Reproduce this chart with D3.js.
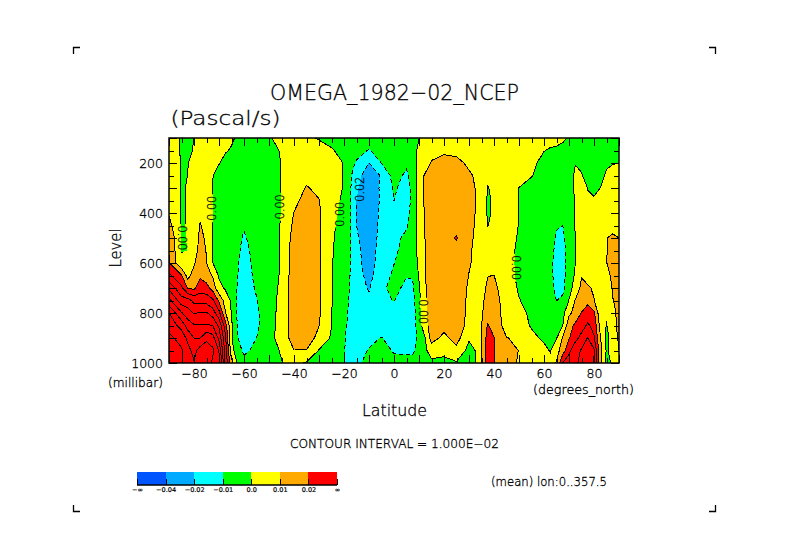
<!DOCTYPE html>
<html>
<head>
<meta charset="utf-8">
<script src="https://cdn.jsdelivr.net/npm/d3@7"></script>
<style>
  html, body { margin: 0; padding: 0; background: #fff; }
  text { font-family: "DejaVu Sans", sans-serif; font-weight: 200; fill: #000; stroke: #000; stroke-width: 0.3; }
  .axis path { display: none; }
  .axis line { stroke: #000; shape-rendering: crispEdges; }
  .axis text { fill: #000; }
</style>
</head>
<body>
<div id="chart"></div>
<script>
// latitude of each column, degrees_north
const lats = [-90,-85,-82.5,-80,-77.5,-75,-72.5,-70,-67.5,-65,-62.5,-60,-55,-50,-45,-40,-35,-30,-25,-20,-17.5,-15,-10,-5,0,5,7.5,10,12.5,15,20,25,30,32.5,35,37.5,40,45,50,55,60,62.5,65,67.5,70,72.5,75,77.5,80,82.5,85,87.5,90];
// pressure of each row, millibar
const levels = [100,150,200,250,300,350,400,450,500,550,600,650,700,750,800,850,900,950,1000];
// omega in 0.001 Pascal/s, one list per latitude, top level to bottom level
const omega = [
  [3,3.5,4,4.5,5,6,9,13,18,19.5,21,32,48,63,80,87,92,93,93],
  [-.5,-.5,-.5,-.5,-.5,-.5,-.5,-.5,-.5,-.3,1.5,21,32,44,61,76,87,91,91],
  [-.4,-.3,-.05,.02,.3,.3,.3,.3,.15,.05,1.5,6,19,44,54,66,77,84,86],
  [.02,.1,.5,.8,1,1.2,1.3,1.5,2,3.5,8.5,15,18,37,49,61,70,76,81],
  [1,1.3,1.5,1.8,2,3,7,11,13,15,17,18,26,36,51,61,70,85,88],
  [2.5,2.5,2.5,2.2,3,3,3.5,5,8,9.5,10,14,24,36,51,61,78,85,86],
  [3,3,1.5,.1,-.1,-.1,-.1,-.1,-.1,-.1,.05,9,16,32,45,60,74,82,78],
  [2.5,1,.2,-1.5,-3,-3,-3,-3,-3,-3,-2,-1.2,3,18,33,48,57,69,75],
  [1.5,.3,-1,-2.5,-4,-4,-4,-4,-4,-4,-4,-3,-1,6,11,25,33,36,38],
  [.5,-.3,-2,-3,-5,-5,-5,-5,-5,-5,-5,-5,-4,-1.5,-.5,1.5,1,3,14],
  [-.5,-2,-3,-4,-5,-5,-6,-7,-8,-8.5,-9.5,-10,-11,-12,-12,-11,-9.8,-5,-2],
  [-1.5,-2.5,-3.5,-4,-5,-6,-8,-9.2,-11,-12.5,-13,-14,-14.5,-15,-15,-14,-13,-12.5,-6],
  [-2,-3,-4,-4.5,-5,-5,-5.5,-6,-6,-7,-7.5,-8,-9,-10.5,-12,-12,-10,-7,-3],
  [-.3,-2,-3,-4,-4,-4,-4,-4,-4,-4,-4,-4,-3.5,-3,-2.5,-2.5,-2.5,-3,-2],
  [1,.5,.2,.25,.25,.25,.25,.6,.8,.8,.8,1,1.5,2,2,2.5,3,.7,-.3],
  [3,3,3,3,3.5,7,10.3,12,14,15,15.5,16,16,16,16,16,15,9.8,3],
  [.8,3,3.5,6,11,14,16,17,18,18,18,18,18,18,18,18,17,9.5,-1],
  [-.3,1.5,2.5,3,7,10.5,11,11.5,11.5,11.5,11.5,11.4,11.3,11.3,11.2,10.3,6,-.5,-1.5],
  [-1,.3,2,2,2,2,2,1.5,1,.7,.5,.4,.3,.3,.2,.1,-1,-2,-3],
  [-2,-1,-.2,-.2,-.3,-1,-2,-3,-3.5,-4,-4.5,-5,-5,-5.5,-6,-7,-9,-9.5,-9.5],
  [-2.5,-2.5,-5,-8.5,-9,-9,-9,-9,-9,-9.2,-9.7,-10.2,-10.6,-11.5,-13,-14,-14,-13,-13],
  [-3,-4,-12,-16,-18.5,-20,-20.2,-20,-18.5,-17,-16.5,-16,-16,-16,-16,-16,-15,-13,-12],
  [-4,-11,-20.2,-26,-28,-29,-29,-28,-27,-26,-25,-23,-20.8,-18,-16,-15,-12,-9.5,-7],
  [-3,-4.5,-9.7,-19,-18,-18,-17,-16.5,-16,-15,-14.5,-14,-12,-12,-13,-14,-9.7,-6,-4],
  [-2,-3.5,-4.5,-6,-9,-9.9,-12,-12.5,-12.5,-11.5,-10.2,-8.5,-7,-9.7,-13.5,-14,-13,-11,-7],
  [-1.5,-4,-8,-12,-13,-13,-12.5,-11,-8,-7,-6,-9.5,-12.5,-14,-15,-16,-14,-11,-8],
  [-1,-1.5,-1.5,-6,-8,-8,-7.5,-6,-4,-4,-3,-9.5,-11,-13,-15,-16,-17,-12,-6],
  [-.05,.8,1,4,5,5,5,4,3,2.5,1,1,-1.5,-2,-3,-4,-5,-6,-7],
  [.6,3,4,11.5,12,11.5,11,10.5,10.3,10,9.7,9.5,9,8.5,8,6,0,-1.5,-3],
  [1.5,6,11,15,16,16.5,17,17,17,16.5,16.5,16,16,15.5,15,15,14,4,-2],
  [2,8.5,13,16,17,17.5,18,18,18,18,18,18,18,18,17,13,7.5,3,-3],
  [1,7,13,16,17,18,18.5,18,20.5,18,17.5,17,16.5,16,16,16,14,7,-1],
  [.8,5,8,11.5,12.5,13,13,12.5,12,11.5,11,9.7,8.5,8,7.5,6.5,1,-3,-3],
  [1.2,4,6,9,9.9,9.95,9.9,9.5,9,8,8,8,7.5,7.5,7,6,3,.1,.1],
  [1.5,3,3.5,5,5.5,6,5.5,5,5,5,5,6,7,8,9,9.8,10.2,10.2,10.2],
  [3,3,3,2,-.4,-1,-1,-.1,2,4,6,9.8,11.5,13,14,21,24,25,25],
  [3,3,3,3,2,1,1,1,2,3,4,10.1,12,13.5,14,15,20.5,20.5,20.5],
  [3,3,3,3,3,3,3,3,3,3,3,3,5,6,6.5,7,10.2,13,14],
  [3,3,3,2,-.1,-.1,-.1,-.2,-.7,-1.5,-1.7,-1.5,-1,.4,1.5,3,9,9.8,9],
  [3,2.5,1.5,.3,-2,-2.5,-3,-3,-3,-3,-3,-3,-3,-3,-1,-.6,1.5,5,6],
  [2.5,.2,-2,-2.5,-3.5,-4,-4.5,-5,-5,-5,-5,-5,-5,-4,-3,-2,-1,1.5,4],
  [2,-.6,-2.5,-3,-4,-5,-6,-6.5,-7,-8,-8.5,-8.5,-8,-6,-4,-3,-2.5,-.4,2],
  [1.5,-.8,-2.5,-3,-4,-5,-7,-9.5,-10.8,-11.5,-12,-12,-11.5,-10.1,-4,-2,-.5,6,11],
  [.6,-1,-2.5,-3,-4.5,-5.5,-7.5,-10,-12,-13,-13.5,-13.5,-12.5,-8,-3,0,11,15,30],
  [-.3,-1,-2,-1.5,-6,-6,-6,-6,-5.5,-5.5,-5,-4.5,-3,.3,8,16,19,28,34],
  [-.5,-1,-.1,.5,2,1,.5,.5,-.1,-.1,-.1,1,3,10.5,13,22,27,36,38],
  [-1,-1.2,-.6,.2,3,3.5,3,3,2,2.5,3,9.5,12.5,13,20.5,26,33,41,43],
  [-1,-1.5,-1.5,-1,-.1,.5,3,3,2.5,3,4,7,11,18,24,31.5,40.5,46,47],
  [-1,-1.5,-1.5,-1.5,-1,.5,2.5,2.5,2.5,3,4,5,9,10.3,22,27,31,41,39],
  [-1,-1.5,-1,-1,0,1.5,3,3,3,4,5,4,4,1.5,3,7,11,13,13],
  [-1,-1.5,-.5,.5,1.5,3,5,7,9.9,9.8,9.8,7,3,2,1,-.5,-2,-1,-2],
  [-1,-1.2,-.2,1.5,2.5,4,6,8,11,12,13,12,11,9.7,8,6,3,3,1],
  [-1,-1,-.01,2,3,5,6,8,10,12,15,14,13,12,12,13,12,9.9,4]
];
// filled bands, lowest first
const bandThresholds = [-40,-20,-10,0,10,20];
const bandColors = ['#0055ff','#00aaff','#00ffff','#00ff00','#ffff00','#ffaa00','#ff0000'];
const lineThresholds = [-20,-10,0,10,20,30,40,50,60,70,80,90];
const legendLabels = ['\u2212\u221e','\u22120.04','\u22120.02','\u22120.01','0.0','0.01','0.02','\u221e'];
const lineLabels = [
  {text:'0.00', lat:-72.9, level:381, turn:-90},
  {text:'0.00', lat:-45.9, level:375, turn:-90},
  {text:'0.00', lat:-21.9, level:405, turn:-90},
  {text:'0.00', lat:-84.5, level:500, turn:90},
  {text:'0.00', lat:48.8, level:619, turn:90},
  {text:'0.00', lat:11.7, level:795, turn:90},
  {text:'0.02', lat:-13.9, level:305, turn:-90}
];

const width = 789, height = 558;
const plot = {left: 169, right: 619, top: 138, bottom: 363};

const svg = d3.select('#chart').append('svg')
  .attr('width', width).attr('height', height)
  .style('display', 'block');

const x = d3.scaleLinear().domain([-90, 90]).range([plot.left, plot.right]);
const y = d3.scaleLinear().domain([100, 1000]).range([plot.top, plot.bottom]);

// d3.contours puts value i at coordinate i + 0.5
const latAt = d3.scaleLinear().domain(lats.map((d, i) => i + 0.5)).range(lats);
const levelAt = d3.scaleLinear().domain(levels.map((d, i) => i + 0.5)).range(levels);
const path = d3.geoPath(d3.geoTransform({
  point(c, r) { this.stream.point(x(latAt(c)), y(levelAt(r))); }
}));

const grid = [];
levels.forEach((lev, r) => lats.forEach((lat, c) => grid.push(omega[c][r])));
const contours = d3.contours().size([lats.length, levels.length]);

const defs = svg.append('defs');
defs.append('clipPath').attr('id', 'plot-clip').append('rect')
  .attr('x', plot.left).attr('y', plot.top)
  .attr('width', plot.right - plot.left).attr('height', plot.bottom - plot.top);

// contour lines are broken where a label sits on them
const mask = defs.append('mask').attr('id', 'label-gaps')
  .attr('maskUnits', 'userSpaceOnUse')
  .attr('x', 0).attr('y', 0).attr('width', width).attr('height', height);
mask.append('rect').attr('width', width).attr('height', height).attr('fill', '#fff');
mask.selectAll('rect.gap').data(lineLabels).enter().append('rect')
  .attr('class', 'gap').attr('fill', '#000')
  .attr('x', d => x(d.lat) - 6).attr('y', d => y(d.level) - 14)
  .attr('width', 12).attr('height', 28);

const field = svg.append('g').attr('clip-path', 'url(#plot-clip)');
field.append('rect')
  .attr('x', plot.left).attr('y', plot.top)
  .attr('width', plot.right - plot.left).attr('height', plot.bottom - plot.top)
  .attr('fill', bandColors[0]);
field.selectAll('path.band')
  .data(contours.thresholds(bandThresholds)(grid))
  .enter().append('path')
  .attr('class', 'band')
  .attr('d', path)
  .attr('fill', (d, i) => bandColors[i + 1])
  .attr('shape-rendering', 'crispEdges');
field.append('g').attr('mask', 'url(#label-gaps)')
  .selectAll('path.line')
  .data(contours.thresholds(lineThresholds)(grid))
  .enter().append('path')
  .attr('class', 'line')
  .attr('d', path)
  .attr('fill', 'none')
  .attr('stroke', '#000')
  .attr('stroke-width', 1)
  .attr('stroke-dasharray', d => d.value < 0 ? '4,3' : null)
  .attr('shape-rendering', 'crispEdges');

svg.selectAll('text.line-label').data(lineLabels).enter().append('text')
  .attr('class', 'line-label')
  .attr('transform', d => `translate(${x(d.lat)},${y(d.level)}) rotate(${d.turn})`)
  .attr('text-anchor', 'middle').attr('dy', '0.36em')
  .attr('font-size', 12)
  .attr('textLength', 25)
  .attr('lengthAdjust', 'spacingAndGlyphs')
  .text(d => d.text);

// ticks point into the plot, on all four sides
const latMinor = d3.range(-90, 91, 5), latMajor = d3.range(-90, 91, 10);
const levMinor = d3.range(100, 1001, 50), levMajor = d3.range(100, 1001, 100);
function addTicks(axis, at, scale, values, size) {
  svg.append('g').attr('class', 'axis')
    .attr('transform', at)
    .call(axis(scale).tickValues(values).tickSize(-size).tickFormat(''));
}
[[latMinor, 5], [latMajor, 8]].forEach(([v, s]) => {
  addTicks(d3.axisBottom, `translate(0,${plot.bottom})`, x, v, s);
  addTicks(d3.axisTop, `translate(0,${plot.top})`, x, v, s);
});
[[levMinor, 5], [levMajor, 8]].forEach(([v, s]) => {
  addTicks(d3.axisLeft, `translate(${plot.left},0)`, y, v, s);
  addTicks(d3.axisRight, `translate(${plot.right},0)`, y, v, s);
});

svg.append('rect')
  .attr('x', plot.left).attr('y', plot.top)
  .attr('width', plot.right - plot.left).attr('height', plot.bottom - plot.top)
  .attr('fill', 'none').attr('stroke', '#000').attr('stroke-width', 1.5);

// tick labels
const bottomLabels = svg.append('g').attr('class', 'axis')
  .attr('transform', `translate(0,${plot.bottom})`)
  .call(d3.axisBottom(x).tickValues(d3.range(-80, 81, 20)).tickSize(0).tickPadding(6));
bottomLabels.selectAll('text').attr('font-size', 12.5);
const leftLabels = svg.append('g').attr('class', 'axis')
  .attr('transform', `translate(${plot.left},0)`)
  .call(d3.axisLeft(y).tickValues(d3.range(200, 1001, 200)).tickSize(0).tickPadding(6).tickFormat(d3.format('d')));
leftLabels.selectAll('text').attr('font-size', 12.5);

function label(text, cx, base, size, len, anchor) {
  return svg.append('text')
    .attr('x', cx).attr('y', base)
    .attr('text-anchor', anchor || 'middle')
    .attr('font-size', size)
    .attr('textLength', len)
    .attr('lengthAdjust', 'spacingAndGlyphs')
    .text(text);
}
label('OMEGA_1982\u221202_NCEP', 394.5, 100, 21, 249);
label('(Pascal/s)', 225.5, 125, 19, 110);
label('(millibar)', 135.5, 387, 11.5, 55);
label('(degrees_north)', 583.5, 394, 11.5, 101);
label('Latitude', 394.5, 416, 15, 65);
label('CONTOUR INTERVAL = 1.000E\u221202', 394.5, 448, 11.5, 209);
label('(mean) lon:0..357.5', 549, 486, 11.5, 116);
svg.append('text')
  .attr('transform', 'translate(121,248) rotate(-90)')
  .attr('text-anchor', 'middle')
  .attr('font-size', 15)
  .attr('textLength', 39)
  .attr('lengthAdjust', 'spacingAndGlyphs')
  .text('Level');

// colour key
const keyX = d3.scaleLinear().domain([0, bandColors.length]).range([137, 337]);
const keyTop = 472, keyBottom = 485;
svg.selectAll('rect.key').data(bandColors).enter().append('rect')
  .attr('class', 'key')
  .attr('x', (d, i) => keyX(i)).attr('y', keyTop)
  .attr('width', keyX(1) - keyX(0)).attr('height', keyBottom - keyTop)
  .attr('fill', d => d)
  .attr('shape-rendering', 'crispEdges');
const keyAxis = svg.append('g').attr('class', 'axis')
  .attr('transform', `translate(0,${keyBottom})`)
  .call(d3.axisBottom(keyX)
    .tickValues(d3.range(bandColors.length + 1))
    .tickSize(-6).tickPadding(2)
    .tickFormat((d, i) => legendLabels[i]));
keyAxis.selectAll('text').attr('font-size', 6.5).style('stroke-width', 0.2).style('font-weight', 400);
svg.append('line')
  .attr('x1', keyX(0)).attr('x2', keyX(bandColors.length))
  .attr('y1', keyBottom).attr('y2', keyBottom)
  .attr('stroke', '#000').attr('stroke-width', 1.5);

// corner marks of the page
const marks = [[73.5, 47.5, 1, 1], [715.5, 47.5, -1, 1], [73.5, 511.5, 1, -1], [715.5, 511.5, -1, -1]];
svg.selectAll('path.mark').data(marks).enter().append('path')
  .attr('class', 'mark')
  .attr('d', d => d3.line()([[d[0], d[1] + 6.5 * d[3]], [d[0], d[1]], [d[0] + 6.5 * d[2], d[1]]]))
  .attr('fill', 'none').attr('stroke', '#000').attr('stroke-width', 1.3);
</script>
</body>
</html>
